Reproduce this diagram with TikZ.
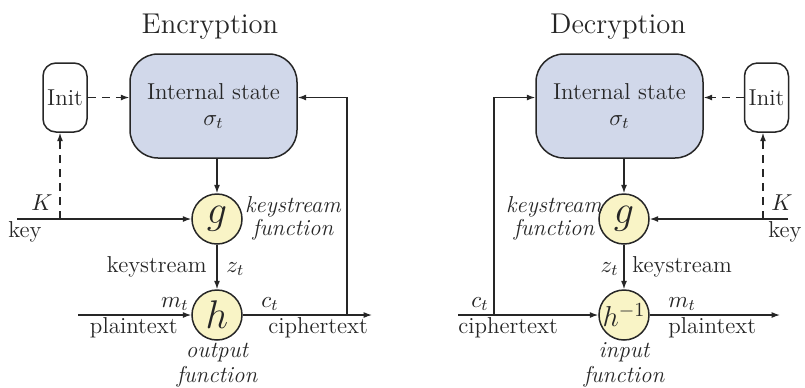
\RequirePackage{fix-cm}
\documentclass[tikz,border=0pt]{standalone}
\usepackage{fontspec}
\usetikzlibrary{arrows.meta}
\definecolor{statefill}{HTML}{D1D8EA}
\definecolor{funcfill}{HTML}{F9F4C6}
\definecolor{ink}{HTML}{262626}
\begin{document}
\begin{tikzpicture}[x=0.5pt,y=-0.5pt,
  every node/.style={text=ink, font=\fontsize{11.5}{13}\selectfont},
  line/.style={draw=ink, line width=0.65pt},
  arr/.style={line, -{Latex[length=4.2pt,width=3pt]}},
  darr/.style={arr, dash pattern=on 4pt off 3pt},
  statebox/.style={draw=ink, line width=0.75pt, fill=statefill, rounded corners=14pt,
    minimum width=83.5pt, minimum height=52pt, inner sep=0pt, align=center},
  initbox/.style={draw=ink, line width=0.75pt, rounded corners=6.5pt,
    minimum width=22pt, minimum height=34.5pt, inner sep=0pt},
  func/.style={circle, draw=ink, line width=0.75pt, fill=funcfill, minimum size=25pt,
    inner sep=0pt, font=\fontsize{20}{20}\selectfont},
  lab/.style={inner sep=0pt},
  itlab/.style={inner sep=0pt, font=\fontsize{11.5}{13}\selectfont\itshape},
  title/.style={inner sep=0pt, font=\fontsize{14.3}{16}\selectfont}]
\useasboundingbox (0,0) rectangle (805,387);

% ---------------- Encryption ----------------
\node[title, anchor=base] (enc) at (210,33) {Encryption};
\node[statebox] (es) at (213.5,106) {Internal state\\$\sigma_t$};
\node[initbox] (ei) at (65,97.5) {Init};
\node[func] (eg) at (217,219) {$g$};
\node[func] (eh) at (217,315) {$h$};

\coordinate (ekey) at (17,219);
\coordinate (ek) at (60,219);
\coordinate (ept) at (78,315);
\coordinate (ect) at (372,315);
\coordinate (efb) at (347,315);

\draw[darr] (ei.east) -- (ei.east -| es.west);
\draw[arr] (ekey) -- (eg.west);
\draw[darr] (ek) -- (ek |- ei.south);
\draw[arr] (eg.north |- es.south) -- (eg.north);
\draw[arr] (eg.south) -- (eh.north);
\draw[arr] (ept) -- (eh.west);
\draw[arr] (eh.east) -- (ect);
\draw[arr] (efb) -- (efb |- ei.east) -- (es.east |- ei.east);

\node[lab, anchor=base east] (eK) at (53,210) {$K$};
\node[lab, anchor=base west] (ekeyl) at (8,237) {key};
\node[itlab, anchor=base] (egl1) at (293,212) {keystream};
\node[itlab, anchor=base] (egl2) at (293,235) {function};
\node[lab, anchor=base east] (eksl) at (207,272) {keystream};
\node[lab, anchor=base west] (ezt) at (226,272) {$z_t$};
\node[lab, anchor=base east] (emt) at (189,307) {$m_t$};
\node[lab, anchor=base east] (eptl) at (178,333) {plaintext};
\node[lab, anchor=base west] (ec) at (261,307) {$c_t$};
\node[lab, anchor=base west] (ectl) at (268,333) {ciphertext};
\node[itlab, anchor=base] (ehl1) at (217,357) {output};
\node[itlab, anchor=base] (ehl2) at (217,382) {function};

% ---------------- Decryption ----------------
\node[title, anchor=base] (dec) at (618,33) {Decryption};
\node[statebox] (ds) at (619.5,106) {Internal state\\$\sigma_t$};
\node[initbox] (di) at (766.5,97.5) {Init};
\node[func] (dg) at (624,219) {$g$};
\node[func, font=\fontsize{14.4}{14.4}\selectfont] (dh) at (624,315) {$h^{-1}$};

\coordinate (dkey) at (788,219);
\coordinate (dk) at (763,219);
\coordinate (dct) at (458,315);
\coordinate (dpt) at (780,315);
\coordinate (dfb) at (494,315);

\draw[darr] (di.west) -- (di.west -| ds.east);
\draw[arr] (dkey) -- (dg.east);
\draw[darr] (dk) -- (dk |- di.south);
\draw[arr] (dg.north |- ds.south) -- (dg.north);
\draw[arr] (dg.south) -- (dh.north);
\draw[arr] (dct) -- (dh.west);
\draw[arr] (dh.east) -- (dpt);
\draw[arr] (dfb) -- (dfb |- di.west) -- (ds.west |- di.west);

\node[lab, anchor=base west] (dK) at (771,210) {$K$};
\node[lab, anchor=base west] (dkeyl) at (768,237) {key};
\node[itlab, anchor=base] (dgl1) at (554,212) {keystream};
\node[itlab, anchor=base] (dgl2) at (554,235) {function};
\node[lab, anchor=base east] (dzt) at (619,272) {$z_t$};
\node[lab, anchor=base west] (dksl) at (632,272) {keystream};
\node[lab, anchor=base east] (dc) at (489,307) {$c_t$};
\node[lab, anchor=base west] (dctl) at (458,333) {ciphertext};
\node[lab, anchor=base west] (dmt) at (668,307) {$m_t$};
\node[lab, anchor=base west] (dptl) at (668,333) {plaintext};
\node[itlab, anchor=base] (dhl1) at (624,357) {input};
\node[itlab, anchor=base] (dhl2) at (624,382) {function};
\end{tikzpicture}
\end{document}
